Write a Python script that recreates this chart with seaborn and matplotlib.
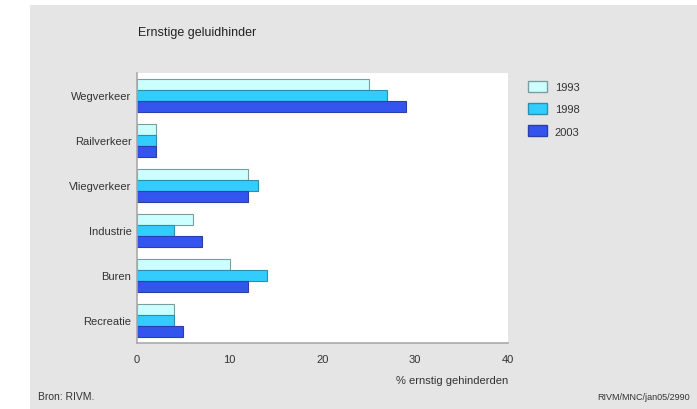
import matplotlib
matplotlib.use("Agg")
import matplotlib.pyplot as plt
from matplotlib.patches import Rectangle
from matplotlib.ticker import MultipleLocator
import seaborn as sns
import pandas as pd

# data
categories = ["Wegverkeer", "Railverkeer", "Vliegverkeer", "Industrie", "Buren", "Recreatie"]
years = ["1993", "1998", "2003"]
values_1993 = [25, 2, 12, 6, 10, 4]
values_1998 = [27, 2, 13, 4, 14, 4]
values_2003 = [29, 2, 12, 7, 12, 5]

df = pd.DataFrame({
    "categorie": categories * 3,
    "jaar": [years[0]] * 6 + [years[1]] * 6 + [years[2]] * 6,
    "waarde": values_1993 + values_1998 + values_2003,
})

sns.set_style("white")
plt.rcParams["font.family"] = ["Liberation Sans", "DejaVu Sans"]

fig = plt.figure(figsize=(6.97, 4.10), dpi=100)
fig.patch.set_facecolor("white")
# gray panel behind the chart
fig.add_artist(Rectangle((30 / 697, 0), 1 - 30 / 697, 1 - 6 / 410,
                         transform=fig.transFigure, facecolor="#e5e5e5",
                         edgecolor="none", zorder=0))

ax = fig.add_axes([137 / 697, 1 - 344 / 410, (508 - 137) / 697, (344 - 74) / 410])
ax.set_facecolor("white")

palette = {"1993": "#ccffff", "1998": "#33ccff", "2003": "#3355ee"}
edges = {"1993": "#7a9e9e", "1998": "#2a8fb0", "2003": "#2a3fa8"}

sns.barplot(data=df, y="categorie", x="waarde", hue="jaar", hue_order=years,
            order=categories, palette=palette, width=0.74, saturation=1,
            orient="h", ax=ax, legend=False)

# edge colours per year
n = len(categories)
for i, bar in enumerate(ax.patches[:3 * n]):
    bar.set_edgecolor(edges[years[i // n]])
    bar.set_linewidth(0.8)

ax.set_xlim(0, 40)
ax.set_ylim(len(categories) - 0.5, -0.5)
ax.xaxis.set_major_locator(MultipleLocator(10))
ax.xaxis.set_minor_locator(MultipleLocator(5))
ax.tick_params(axis="x", which="major", direction="out", length=5, width=0.8,
               color="#999999", labelsize=8, labelcolor="#333333", pad=3)
ax.tick_params(axis="x", which="minor", direction="out", length=3, width=0.8,
               color="#999999")
ax.tick_params(axis="y", length=0, labelsize=8, labelcolor="#333333", pad=4)
ax.set_xlabel("")
ax.set_ylabel("")
for side in ["top", "right"]:
    ax.spines[side].set_visible(False)
for side in ["left", "bottom"]:
    ax.spines[side].set_color("#aaaaaa")
    ax.spines[side].set_linewidth(1.2)

# legend on the gray area
handles = [Rectangle((0, 0), 1, 1, facecolor=palette[y], edgecolor=edges[y]) for y in years]
fig.legend(handles, years, loc="upper left", bbox_to_anchor=(518 / 697, 1 - 72 / 410),
           frameon=False, fontsize=8, handlelength=1.7, handleheight=1.1,
           labelspacing=1.0, handletextpad=0.7, labelcolor="#333333")

fig.text(138 / 697, 1 - 33 / 410, "Ernstige geluidhinder", fontsize=9,
         color="#222222", va="center", ha="left")
fig.text(508 / 697, 1 - 381 / 410, "% ernstig gehinderden", fontsize=8,
         color="#333333", va="center", ha="right")
fig.text(38 / 697, 1 - 397 / 410, "Bron: RIVM.", fontsize=7.5,
         color="#333333", va="center", ha="left")
fig.text(690 / 697, 1 - 398 / 410, "RIVM/MNC/jan05/2990", fontsize=6.5,
         color="#333333", va="center", ha="right")

fig.savefig("out.png", dpi=100, facecolor=fig.get_facecolor())
